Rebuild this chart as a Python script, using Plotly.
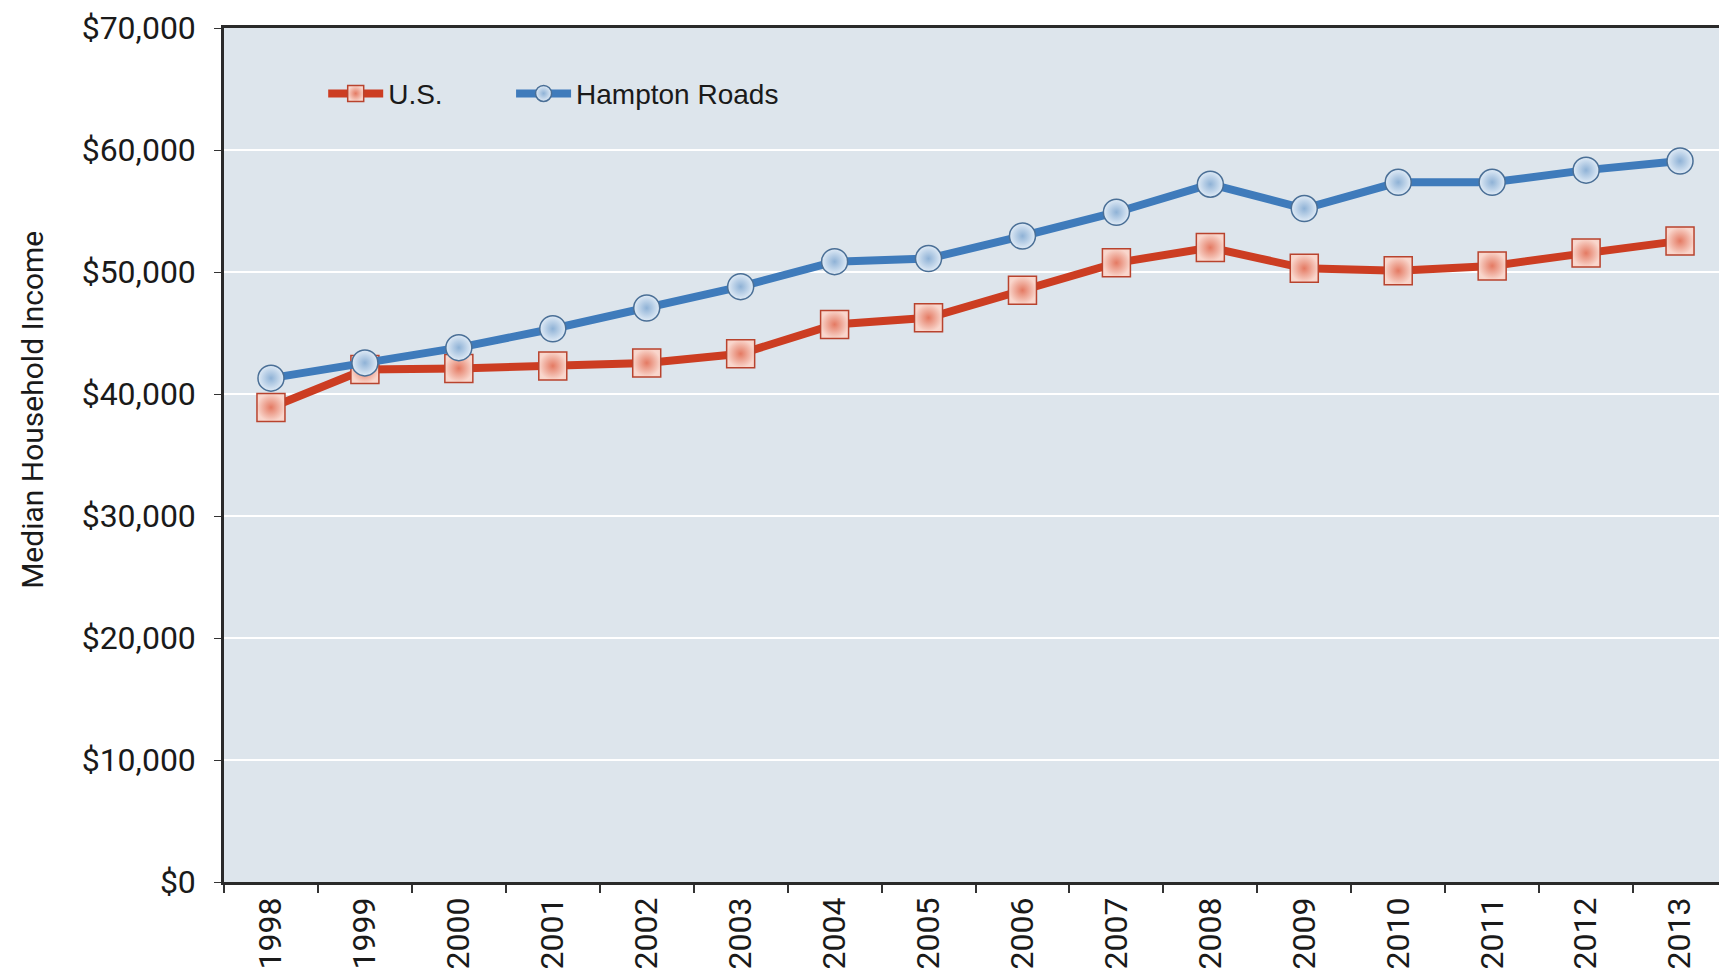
import plotly.graph_objects as go

# Median household income
years = [str(y) for y in range(1998, 2014)]
us_income = [38900, 42000, 42100, 42300, 42550, 43300, 45700, 46250,
             48500, 50750, 52000, 50300, 50100, 50500, 51550, 52550]
hr_income = [41300, 42550, 43800, 45350, 47050, 48800, 50850, 51100,
             52950, 54900, 57200, 55200, 57350, 57350, 58350, 59100]

y_ticks = [0, 10000, 20000, 30000, 40000, 50000, 60000, 70000]
y_labels = ["$0", "$10,000", "$20,000", "$30,000", "$40,000", "$50,000", "$60,000", "$70,000"]

font_name = "Roboto"

fig = go.Figure()

fig.add_trace(go.Scatter(
    x=years, y=us_income, name="U.S.", mode="lines+markers",
    line=dict(color="#cc3d22", width=8),
    marker=dict(symbol="square", size=28, color="#f9d6cc",
                gradient=dict(type="radial", color="#e47a63"),
                line=dict(color="#b8432e", width=1.5)),
    legend="legend",
))
fig.add_trace(go.Scatter(
    x=years, y=hr_income, name="Hampton Roads", mode="lines+markers",
    line=dict(color="#3f7bbb", width=8),
    marker=dict(symbol="circle", size=26, color="#e0ebf6",
                gradient=dict(type="radial", color="#8fb2d6"),
                line=dict(color="#4a6f96", width=1.5)),
    legend="legend2",
))

leg_style = dict(orientation="h", xanchor="left", yanchor="middle",
                 bgcolor="rgba(0,0,0,0)", font=dict(size=28, family="Liberation Sans"),
                 itemwidth=55)

# page body adds an 8px offset, margins allow for it
fig.update_layout(
    width=1727, height=974,
    margin=dict(l=216, r=8, t=20, b=100),
    paper_bgcolor="white",
    plot_bgcolor="#dde5ec",
    font=dict(family=font_name, color="#1a1a1a"),
    showlegend=True,
    legend=dict(x=0.066, y=0.923, **leg_style),
    legend2=dict(x=0.191, y=0.923, **leg_style),
)

fig.update_xaxes(
    type="category", range=[-0.5, 15.5],
    tickangle=-90, tickfont=dict(size=32),
    showgrid=False, ticks="outside", tickson="boundaries",
    ticklen=8, tickcolor="#333", tickwidth=1.5,
    showline=True, linecolor="#2a2a2a", linewidth=2.5, mirror=True,
    automargin=False,
)
fig.update_yaxes(
    range=[0, 70000], tickvals=y_ticks, ticktext=y_labels,
    tickfont=dict(size=32), ticks="outside", ticklen=7, tickcolor="#333",
    ticklabelstandoff=12, ticklabeloverflow="allow",
    showgrid=True, gridcolor="white", gridwidth=2,
    showline=True, linecolor="#2a2a2a", linewidth=2.5,
    zeroline=False, automargin=False,
)

fig.add_annotation(
    text="Median Household Income", textangle=-90,
    xref="paper", yref="paper", x=-0.127, y=0.553,
    xanchor="center", yanchor="middle", showarrow=False,
    font=dict(size=30, family=font_name, color="#1a1a1a"),
)

fig.write_html("out.html")
